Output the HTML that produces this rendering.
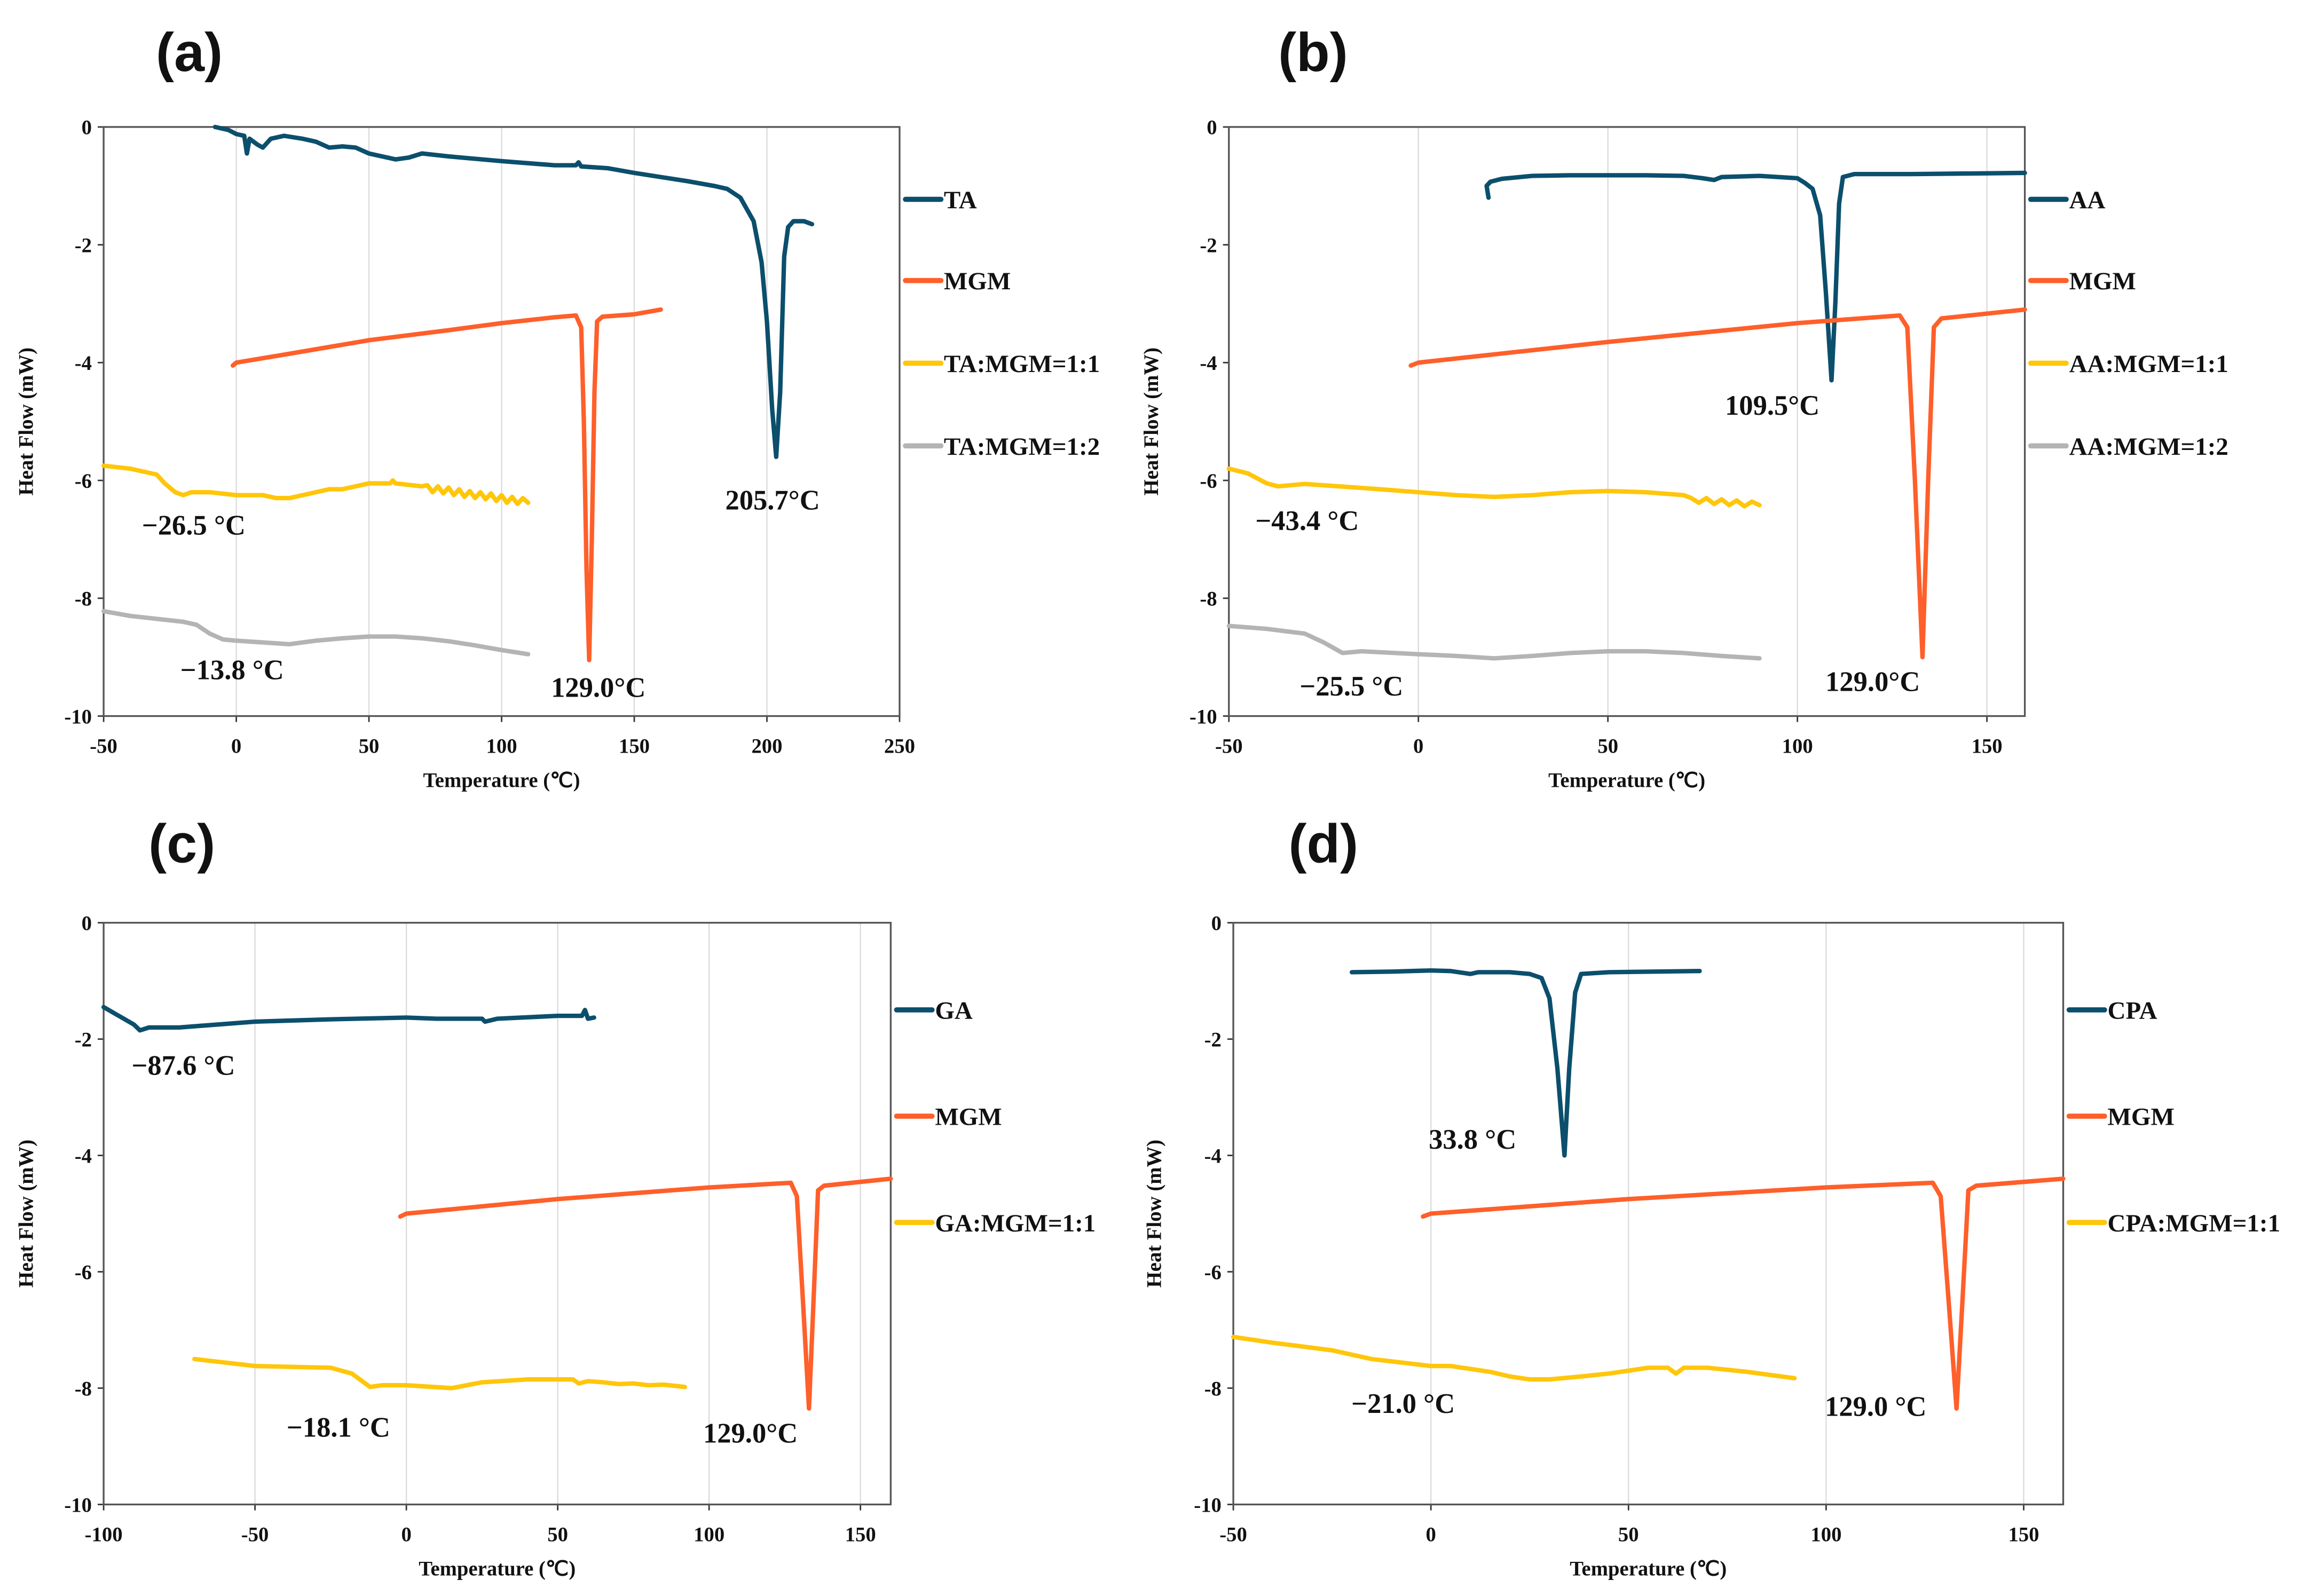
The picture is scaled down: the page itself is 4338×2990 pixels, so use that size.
<!DOCTYPE html>
<html><head><meta charset="utf-8"><style>
html,body{margin:0;padding:0;background:#fff;}
svg{display:block;}
text{font-family:"Liberation Serif",serif;font-weight:bold;fill:#111;}
.pl{font-family:"Liberation Sans",sans-serif;font-size:37px;}
</style></head><body>
<svg id="fig" width="4338" height="2990" viewBox="0 0 1568 1081" xmlns="http://www.w3.org/2000/svg"></svg>
<script>
// ---- data (Temperature °C, Heat Flow mW) ----
const yTicks=[0,-2,-4,-6,-8,-10];
const xTicksA=[-50,0,50,100,150,200,250];
const xTicksB=[-50,0,50,100,150];
const xTicksC=[-100,-50,0,50,100,150];
const xTicksD=[-50,0,50,100,150];

const taT=[-8,-3,0,3,4,5,8,10,13,18,25,30,35,40,45,50,55,60,65,70,80,100,120,128,129,130,140,150,160,170,180,185,190,195,198,200,202,203.5,205,206.5,208,210,214,217];
const taHF=[0,-0.05,-0.12,-0.15,-0.45,-0.2,-0.3,-0.35,-0.2,-0.15,-0.2,-0.25,-0.35,-0.33,-0.35,-0.45,-0.5,-0.55,-0.52,-0.45,-0.5,-0.58,-0.65,-0.65,-0.6,-0.67,-0.7,-0.78,-0.85,-0.92,-1.0,-1.05,-1.2,-1.6,-2.3,-3.3,-4.8,-5.6,-4.5,-2.2,-1.7,-1.6,-1.6,-1.65];
const mgmAT=[-1.3,0,20,50,80,100,120,128,130,131,132,133,134,135,136,138,150,160];
const mgmAHF=[-4.05,-4.0,-3.85,-3.62,-3.45,-3.33,-3.23,-3.2,-3.4,-5,-7.5,-9.05,-7,-4.5,-3.3,-3.22,-3.18,-3.1];
const ta11T=[-50,-40,-30,-27,-23,-20,-17,-10,0,10,15,20,25,35,40,50,58,59,60,70,72,74,76,78,80,82,84,86,88,90,92,94,96,98,100,102,104,106,108,110];
const ta11HF=[-5.75,-5.8,-5.9,-6.05,-6.2,-6.25,-6.2,-6.2,-6.25,-6.25,-6.3,-6.3,-6.25,-6.15,-6.15,-6.05,-6.05,-6.0,-6.05,-6.1,-6.08,-6.2,-6.1,-6.22,-6.12,-6.25,-6.15,-6.28,-6.18,-6.3,-6.2,-6.32,-6.22,-6.35,-6.25,-6.38,-6.28,-6.4,-6.3,-6.38];
const ta12T=[-50,-40,-30,-20,-15,-10,-5,0,10,20,30,40,50,60,70,80,90,100,110];
const ta12HF=[-8.22,-8.3,-8.35,-8.4,-8.45,-8.6,-8.7,-8.72,-8.75,-8.78,-8.72,-8.68,-8.65,-8.65,-8.68,-8.73,-8.8,-8.88,-8.95];

const aaT=[18.5,18,19,22,30,40,60,70,75,78,80,90,100,102,104,106,107.5,109,110,111,112,115,130,160];
const aaHF=[-1.2,-1.0,-0.93,-0.88,-0.83,-0.82,-0.82,-0.83,-0.87,-0.9,-0.85,-0.83,-0.87,-0.95,-1.05,-1.5,-2.8,-4.3,-3,-1.3,-0.85,-0.8,-0.8,-0.78];
const mgmBT=[-2,0,50,100,127,129,131,133,134.5,136,138,160];
const mgmBHF=[-4.05,-4.0,-3.65,-3.33,-3.2,-3.4,-6,-9,-6,-3.4,-3.25,-3.1];
const aa11T=[-50,-45,-40,-37,-30,-10,10,20,30,40,50,60,70,72,74,76,78,80,82,84,86,88,90];
const aa11HF=[-5.8,-5.88,-6.05,-6.1,-6.06,-6.15,-6.25,-6.28,-6.25,-6.2,-6.18,-6.2,-6.25,-6.3,-6.38,-6.3,-6.4,-6.32,-6.42,-6.34,-6.44,-6.36,-6.42];
const aa12T=[-50,-40,-30,-25,-20,-15,0,10,20,30,40,50,60,70,80,90];
const aa12HF=[-8.47,-8.52,-8.6,-8.75,-8.93,-8.9,-8.95,-8.98,-9.02,-8.98,-8.93,-8.9,-8.9,-8.93,-8.98,-9.02];

const gaT=[-100,-95,-90,-88,-85,-75,-50,-25,0,10,25,26,30,50,58,59,60,62];
const gaHF=[-1.45,-1.6,-1.75,-1.85,-1.8,-1.8,-1.7,-1.66,-1.63,-1.65,-1.65,-1.7,-1.65,-1.6,-1.6,-1.5,-1.65,-1.63];
const mgmCT=[-2,0,50,100,127,129,131,133,134.5,136,138,160];
const mgmCHF=[-5.05,-5.0,-4.75,-4.55,-4.47,-4.7,-6.5,-8.35,-6.5,-4.6,-4.52,-4.4];
const ga11T=[-70,-50,-25,-18,-12,-8,0,15,25,40,55,57,60,65,70,75,80,85,92];
const ga11HF=[-7.5,-7.62,-7.65,-7.75,-7.98,-7.95,-7.95,-8.0,-7.9,-7.85,-7.85,-7.92,-7.88,-7.9,-7.93,-7.92,-7.95,-7.94,-7.98];

const cpaT=[-20,-10,0,5,8,10,12,20,25,28,30,32,33.8,35,36.5,38,45,68];
const cpaHF=[-0.85,-0.84,-0.82,-0.83,-0.86,-0.88,-0.85,-0.85,-0.88,-0.95,-1.3,-2.5,-4.0,-2.5,-1.2,-0.88,-0.85,-0.83];
const mgmDT=[-2,0,50,100,127,129,131,133,134.5,136,138,160];
const mgmDHF=[-5.05,-5.0,-4.75,-4.55,-4.47,-4.7,-6.5,-8.35,-6.5,-4.6,-4.52,-4.4];
const cpa11T=[-50,-40,-25,-15,0,5,15,20,25,30,38,45,55,60,62,64,70,80,92];
const cpa11HF=[-7.12,-7.22,-7.35,-7.5,-7.62,-7.62,-7.72,-7.8,-7.85,-7.85,-7.8,-7.75,-7.65,-7.65,-7.75,-7.65,-7.65,-7.72,-7.83];

// ---- layout ----
const COL={teal:"#0b4f6c",orange:"#ff5f2a",yellow:"#ffc60a",gray:"#b4b4b4"};
const panels=[
 {id:"a",L:70,R:609,T:86,B:485,xmin:-50,xmax:250,xt:xTicksA,lab:[128,35],ylx:22,
  series:[["TA",taT,taHF,"teal"],["MGM",mgmAT,mgmAHF,"orange"],["TA:MGM=1:1",ta11T,ta11HF,"yellow"],["TA:MGM=1:2",ta12T,ta12HF,"gray"]],
  leg:[135,190,246,302],
  ann:[["205.7°C",523,338],["−26.5 °C",131,355],["−13.8 °C",157,453],["129.0°C",405,465]]},
 {id:"b",L:832,R:1371,T:86,B:485,xmin:-50,xmax:160,xt:xTicksB,lab:[889,35],ylx:784,
  series:[["AA",aaT,aaHF,"teal"],["MGM",mgmBT,mgmBHF,"orange"],["AA:MGM=1:1",aa11T,aa11HF,"yellow"],["AA:MGM=1:2",aa12T,aa12HF,"gray"]],
  leg:[135,190,246,302],
  ann:[["109.5°C",1200,274],["−43.4 °C",885,352],["−25.5 °C",915,464],["129.0°C",1268,461]]},
 {id:"c",L:70,R:603,T:625,B:1019,xmin:-100,xmax:160,xt:xTicksC,lab:[123,571],ylx:22,
  series:[["GA",gaT,gaHF,"teal"],["MGM",mgmCT,mgmCHF,"orange"],["GA:MGM=1:1",ga11T,ga11HF,"yellow"]],
  leg:[684,756,828],
  ann:[["−87.6 °C",124,721],["−18.1 °C",229,966],["129.0°C",508,970]]},
 {id:"d",L:835,R:1397,T:625,B:1019,xmin:-50,xmax:160,xt:xTicksD,lab:[896,571],ylx:786,
  series:[["CPA",cpaT,cpaHF,"teal"],["MGM",mgmDT,mgmDHF,"orange"],["CPA:MGM=1:1",cpa11T,cpa11HF,"yellow"]],
  leg:[684,756,828],
  ann:[["33.8 °C",997,771],["−21.0 °C",950,950],["129.0 °C",1270,952]]}
];
const NS="http://www.w3.org/2000/svg";
const svg=document.getElementById("fig");
function mk(tag,attrs,parent,txt){const e=document.createElementNS(NS,tag);for(const k in attrs)e.setAttribute(k,attrs[k]);if(txt!==undefined)e.textContent=txt;parent.appendChild(e);return e;}
panels.forEach(p=>{
  const g=mk("g",{},svg);
  
  
  const X=v=>p.L+(v-p.xmin)/(p.xmax-p.xmin)*(p.R-p.L);
  const Y=v=>p.T+(0-v)/10*(p.B-p.T);
  p.xt.forEach(t=>{
    if(t!==p.xmin&&t!==p.xmax){const gl=mk("line",{x1:X(t),x2:X(t),y1:p.T,y2:p.B,stroke:"#d9d9d9","stroke-width":0.8},g);
      
      }
    mk("line",{x1:X(t),x2:X(t),y1:p.B,y2:p.B+4,stroke:"#333","stroke-width":1},g);
    const tl=mk("text",{x:X(t),y:p.B+25,"font-size":14,"text-anchor":"middle"},g,String(t));
    
    
  });
  yTicks.forEach(t=>{
    mk("line",{x1:p.L-4,x2:p.L,y1:Y(t),y2:Y(t),stroke:"#333","stroke-width":1},g);
    const tl=mk("text",{x:p.L-8,y:Y(t)+5,"font-size":14,"text-anchor":"end"},g,String(t));
    
    
  });
  const fr=mk("rect",{x:p.L,y:p.T,width:p.R-p.L,height:p.B-p.T,fill:"none",stroke:"#555","stroke-width":1.2},g);
  
  
  p.series.forEach((s,i)=>{
    const d=s[1].map((t,k)=>(k?"L":"M")+X(t).toFixed(2)+","+Y(s[2][k]).toFixed(2)).join("");
    const path=mk("path",{d:d,fill:"none",stroke:COL[s[3]],"stroke-width":3,"stroke-linejoin":"round","stroke-linecap":"round"},g);
    
    
    const ly=p.leg[i];
    const ll=mk("line",{x1:p.R+4,x2:p.R+28,y1:ly,y2:ly,stroke:COL[s[3]],"stroke-width":3.5,"stroke-linecap":"round"},g);
    
    
    const lt=mk("text",{x:p.R+30,y:ly+6,"font-size":17},g,s[0]);
    
    
  });
  p.ann.forEach(a=>{
    const at=mk("text",{x:a[1],y:a[2]+7,"font-size":19,"text-anchor":"middle"},g,a[0]);
    
    
  });
  const xt=mk("text",{x:(p.L+p.R)/2,y:p.B+48,"font-size":14,"text-anchor":"middle"},g,"Temperature (℃)");
  
  
  const yc=(p.T+p.B)/2;
  const yt=mk("text",{x:p.ylx,y:yc,"font-size":14,"text-anchor":"middle",transform:"rotate(-90 "+p.ylx+" "+yc+")"},g,"Heat Flow (mW)");
  
  
  const pl=mk("text",{x:p.lab[0],y:p.lab[1]+13,"text-anchor":"middle",class:"pl"},g,"("+p.id+")");
  
  
});
</script>
</body></html>
